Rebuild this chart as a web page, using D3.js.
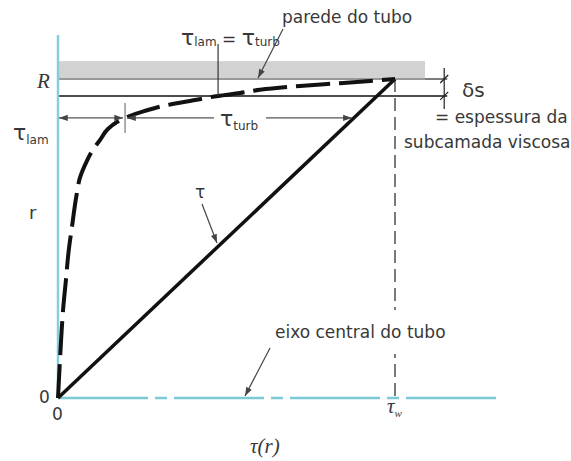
<!DOCTYPE html>
<html>
<head>
<meta charset="utf-8">
<script src="https://cdn.jsdelivr.net/npm/d3@7"></script>
<style>
  body { margin: 0; background: #fff; }
  text { fill: #383838; }
</style>
</head>
<body>
<svg id="chart" width="571" height="461"></svg>
<script>
// Shear stress distribution in turbulent pipe flow.
// Radial position r/R along the dashed (laminar) profile
const rPos = [0, 0.103, 0.197, 0.276, 0.364, 0.464, 0.533, 0.636, 0.690, 0.737,
  0.774, 0.809, 0.843, 0.865, 0.878, 0.900, 0.918, 0.934, 0.947, 0.956,
  0.966, 0.978, 0.987, 0.994, 1];
// Laminar shear stress τ_lam / τ_w at those positions
const tauLam = [0, 0.005, 0.010, 0.015, 0.023, 0.032, 0.041, 0.055, 0.065, 0.083,
  0.101, 0.125, 0.148, 0.175, 0.199, 0.258, 0.323, 0.407, 0.475, 0.540,
  0.599, 0.718, 0.837, 0.926, 1];
// Total shear stress τ(r): straight line from the centreline to the wall
const totalR = [0, 1];
const totalTau = [0, 1];

const tauWall = 1;          // τ_w
const radius = 1;           // R
const sublayerEdge = 0.947; // R − δs
const wallOuter = 1.056;    // outer face of the pipe wall
const dimLevel = 0.878;     // level of the τ_lam / τ_turb dimension lines

const svg = d3.select("#chart");
const x = d3.scaleLinear().domain([0, 1]).range([58, 395]);
const y = d3.scaleLinear().domain([0, 1]).range([398, 79]);

const sans = "DejaVu Sans, sans-serif";
const serif = "Liberation Serif, serif";

// arrow heads
const defs = svg.append("defs");
defs.append("marker")
  .attr("id", "arrow")
  .attr("viewBox", "0 -4 10 8")
  .attr("refX", 10).attr("refY", 0)
  .attr("markerWidth", 10).attr("markerHeight", 7)
  .attr("markerUnits", "userSpaceOnUse")
  .attr("orient", "auto-start-reverse")
  .append("path").attr("d", "M0,-3.5L10,0L0,3.5Z").attr("fill", "#444");

// pipe wall
svg.append("rect")
  .attr("x", x(0)).attr("y", y(wallOuter))
  .attr("width", x(1.089) - x(0)).attr("height", y(radius) - y(wallOuter))
  .attr("fill", "#d2d2d2");
svg.append("line")
  .attr("x1", x(0)).attr("x2", x(1.089))
  .attr("y1", y(radius)).attr("y2", y(radius))
  .attr("stroke", "#9a9a9a").attr("stroke-width", 2);
svg.append("line")
  .attr("x1", x(1.089)).attr("x2", x(1.155))
  .attr("y1", y(radius)).attr("y2", y(radius))
  .attr("stroke", "#222").attr("stroke-width", 1.2);

// edge of the viscous sublayer
svg.append("line")
  .attr("x1", x(0)).attr("x2", x(1.155))
  .attr("y1", y(sublayerEdge)).attr("y2", y(sublayerEdge))
  .attr("stroke", "#111").attr("stroke-width", 1.5);

// δs dimension
const dx = x(1.146);
svg.append("line")
  .attr("x1", dx).attr("x2", dx)
  .attr("y1", y(radius) - 11).attr("y2", y(sublayerEdge) + 13)
  .attr("stroke", "#222").attr("stroke-width", 1.2);
[radius, sublayerEdge].forEach(v => {
  svg.append("line")
    .attr("x1", dx - 4).attr("x2", dx + 4)
    .attr("y1", y(v) + 4).attr("y2", y(v) - 4)
    .attr("stroke", "#222").attr("stroke-width", 1.2);
});

// τ_w reference line
svg.append("line")
  .attr("x1", x(tauWall)).attr("x2", x(tauWall))
  .attr("y1", y(radius)).attr("y2", y(0))
  .attr("stroke", "#7a7a7a").attr("stroke-width", 2)
  .attr("stroke-dasharray", "13 6");

// centreline label, on a white backing
svg.append("rect")
  .attr("x", 272).attr("y", 310).attr("width", 185).attr("height", 44)
  .attr("fill", "#fff");
svg.append("text")
  .attr("x", 275).attr("y", 338)
  .attr("font-family", sans).attr("font-size", 17)
  .text("eixo central do tubo");
svg.append("line")
  .attr("x1", 270).attr("y1", 348).attr("x2", 245).attr("y2", 396)
  .attr("stroke", "#444").attr("stroke-width", 1.2)
  .attr("marker-end", "url(#arrow)");

// axes
svg.append("line")
  .attr("x1", x(0)).attr("x2", x(0))
  .attr("y1", y(1.138)).attr("y2", y(0))
  .attr("stroke", "#86cfda").attr("stroke-width", 2.5);
svg.append("line")
  .attr("x1", x(0)).attr("x2", x(1.306))
  .attr("y1", y(0)).attr("y2", y(0))
  .attr("stroke", "#7ccad6").attr("stroke-width", 2.5)
  .attr("stroke-dasharray", "90 7 12 7");

// total shear stress
const line = d3.line().x(d => x(d[0])).y(d => y(d[1]));
svg.append("path")
  .datum(totalTau.map((t, i) => [t, totalR[i]]))
  .attr("d", line)
  .attr("fill", "none").attr("stroke", "#111").attr("stroke-width", 3.5);

// laminar shear stress profile
const curve = d3.line().x(d => x(d[0])).y(d => y(d[1])).curve(d3.curveMonotoneY);
svg.append("path")
  .datum(tauLam.map((t, i) => [t, rPos[i]]))
  .attr("d", curve)
  .attr("fill", "none").attr("stroke", "#111").attr("stroke-width", 4)
  .attr("stroke-dasharray", "34 9");

// dimension lines at r = dimLevel
const lamAt = d3.scaleLinear().domain(rPos).range(tauLam);
const totAt = d3.scaleLinear().domain(totalR).range(totalTau);
const xl = x(lamAt(dimLevel));
const xt = x(totAt(dimLevel));
const yd = y(dimLevel);
svg.append("line")
  .attr("x1", xl).attr("x2", xl).attr("y1", yd - 15).attr("y2", yd + 15)
  .attr("stroke", "#777").attr("stroke-width", 1.2);
const dimStyle = sel => sel.attr("stroke", "#555").attr("stroke-width", 1.1);
svg.append("line")
  .attr("x1", x(0) + 1).attr("x2", xl - 2).attr("y1", yd).attr("y2", yd)
  .call(dimStyle)
  .attr("marker-start", "url(#arrow)").attr("marker-end", "url(#arrow)");
svg.append("line")
  .attr("x1", xl + 2).attr("x2", 214).attr("y1", yd).attr("y2", yd)
  .call(dimStyle).attr("marker-start", "url(#arrow)");
svg.append("line")
  .attr("x1", 266).attr("x2", xt - 2).attr("y1", yd).attr("y2", yd)
  .call(dimStyle).attr("marker-end", "url(#arrow)");

// τ_lam = τ_turb marker
const xe = x(lamAt(sublayerEdge));
svg.append("line")
  .attr("x1", xe).attr("x2", xe).attr("y1", 44).attr("y2", y(sublayerEdge))
  .attr("stroke", "#333").attr("stroke-width", 1.2);

// labels with subscripts
function subLabel(px, py, main, sub, size, subSize, family) {
  const t = svg.append("text").attr("x", px).attr("y", py)
    .attr("font-family", family || sans);
  t.append("tspan").attr("font-size", size).text(main);
  t.append("tspan").attr("font-size", subSize).attr("dy", 4).text(sub);
  return t;
}
{
  const t = svg.append("text").attr("x", 181).attr("y", 45).attr("font-family", sans);
  t.append("tspan").attr("font-size", 22).text("τ");
  t.append("tspan").attr("font-size", 12).attr("dy", 1).text("lam");
  t.append("tspan").attr("font-size", 17).attr("dy", -1).text(" = ");
  t.append("tspan").attr("font-size", 22).text("τ");
  t.append("tspan").attr("font-size", 12).attr("dy", 1).text("turb");
}
subLabel(13, 140, "τ", "lam", 22, 12);
subLabel(220, 126, "τ", "turb", 22, 12);

svg.append("text")
  .attr("x", 282).attr("y", 23)
  .attr("font-family", sans).attr("font-size", 17)
  .text("parede do tubo");
svg.append("line")
  .attr("x1", 283).attr("y1", 29).attr("x2", 258).attr("y2", 78)
  .attr("stroke", "#444").attr("stroke-width", 1.2)
  .attr("marker-end", "url(#arrow)");

svg.append("text")
  .attr("x", 462).attr("y", 97)
  .attr("font-family", sans).attr("font-size", 20)
  .text("δs");
svg.append("text")
  .attr("x", 435).attr("y", 123)
  .attr("font-family", sans).attr("font-size", 17)
  .text("= espessura da");
svg.append("text")
  .attr("x", 404).attr("y", 148)
  .attr("font-family", sans).attr("font-size", 17)
  .text("subcamada viscosa");

// τ pointer to the total stress line
svg.append("text")
  .attr("x", 195).attr("y", 198)
  .attr("font-family", sans).attr("font-size", 17)
  .text("τ");
svg.append("line")
  .attr("x1", 202).attr("y1", 204).attr("x2", 217).attr("y2", 243)
  .attr("stroke", "#444").attr("stroke-width", 1.2)
  .attr("marker-end", "url(#arrow)");

// axis labels
svg.append("text")
  .attr("x", 37).attr("y", 88)
  .attr("font-family", serif).attr("font-style", "italic").attr("font-size", 21)
  .text("R");
svg.append("text")
  .attr("x", 29).attr("y", 219)
  .attr("font-family", sans).attr("font-size", 18)
  .text("r");
svg.append("text")
  .attr("x", 39).attr("y", 403)
  .attr("font-family", sans).attr("font-size", 17)
  .text("0");
svg.append("text")
  .attr("x", 52).attr("y", 420)
  .attr("font-family", sans).attr("font-size", 17)
  .text("0");
subLabel(387, 413, "τ", "w", 21, 11, serif)
  .attr("font-style", "italic");
svg.append("text")
  .attr("x", 250).attr("y", 453)
  .attr("font-family", serif).attr("font-style", "italic").attr("font-size", 21)
  .text("τ(r)");
</script>
</body>
</html>
